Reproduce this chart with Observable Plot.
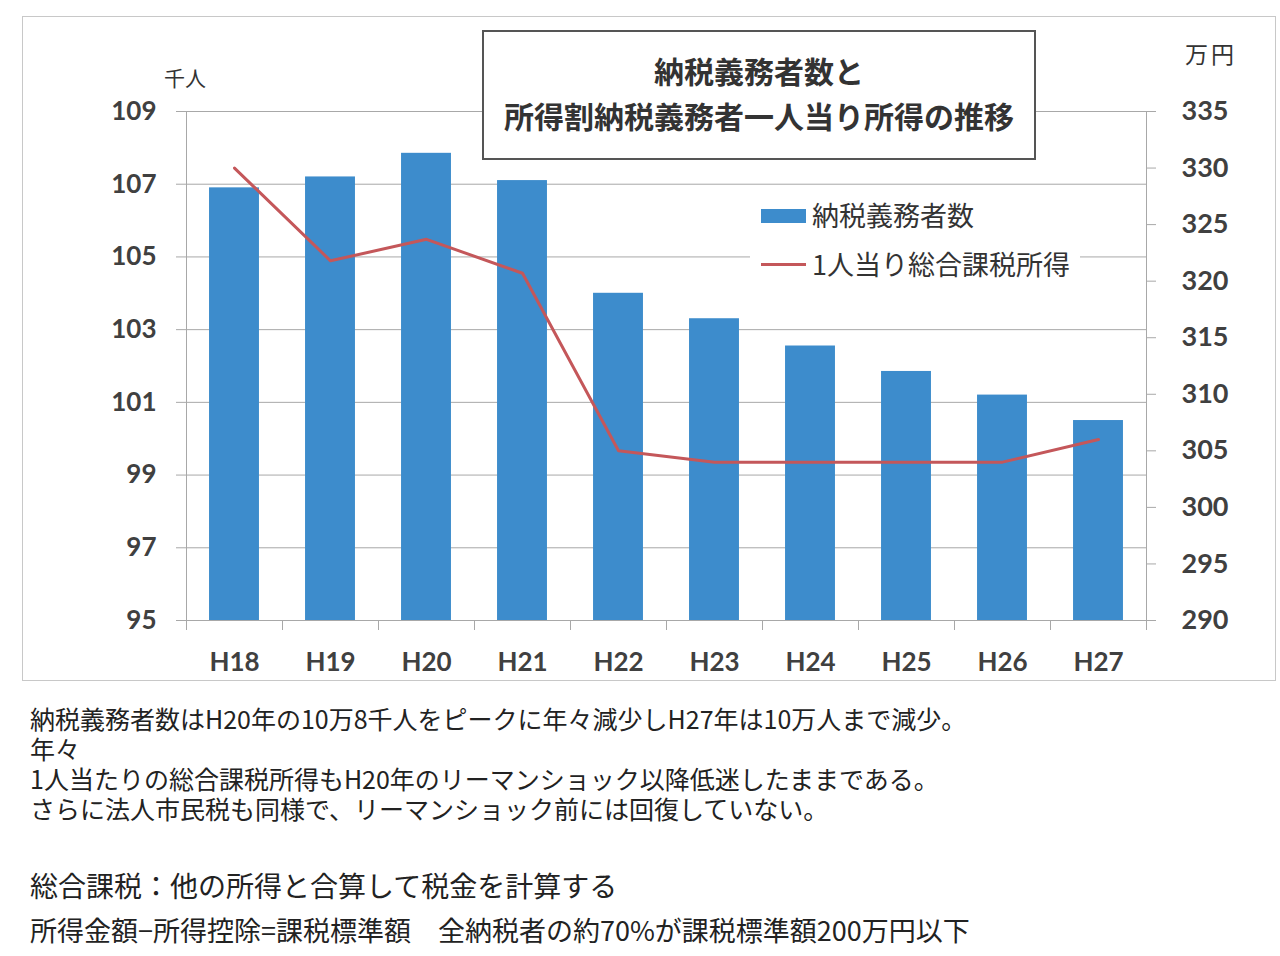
<!DOCTYPE html>
<html>
<head>
<meta charset="utf-8">
<script src="https://cdn.jsdelivr.net/npm/d3@7"></script>
<script src="https://cdn.jsdelivr.net/npm/@observablehq/plot@0.6"></script>
<style>
  html, body { margin: 0; padding: 0; background: #fff; overflow: hidden; }
  #page { position: relative; width: 1280px; height: 956px; font-family: "Noto Sans CJK JP", sans-serif; color: #333; }
  #frame { position: absolute; left: 22px; top: 16px; width: 1252px; height: 663px; border: 1px solid #c8c8c8; }
  #chart { position: absolute; left: 0; top: 0; }
  #title { position: absolute; left: 482px; top: 30px; width: 550px; border: 2px solid #555; background: #fff;
           text-align: center; font-weight: bold; font-size: 30px; line-height: 45px; padding-top: 16px; height: 110px; color: #333; }
  #legend { position: absolute; left: 750px; top: 192px; width: 330px; height: 95px; background: #fff; }
  .leg { position: absolute; left: 62px; font-size: 27px; line-height: 34px; color: #333; white-space: nowrap; }
  .sw { position: absolute; left: 11px; width: 45px; }
  .unit { position: absolute; font-size: 21px; color: #333; }
  .note { position: absolute; left: 30px; white-space: pre; color: #222; }
</style>
</head>
<body>
<div id="page">
  <div id="frame"></div>
  <div id="chart"></div>
  <div id="title"></div>
  <div id="legend"></div>
  <div class="unit" id="unitL" style="left:164px; top:62px;"></div>
  <div class="unit" id="unitR" style="left:1185px; top:36px; font-size:23px; letter-spacing:3px;"></div>
  <div id="notes"></div>
</div>
<script>
// ---- data ----
const categories = ["H18", "H19", "H20", "H21", "H22", "H23", "H24", "H25", "H26", "H27"];
const taxpayers = [106.9, 107.2, 107.85, 107.1, 104.0, 103.3, 102.55, 101.85, 101.2, 100.5]; // 千人
const incomePerPerson = [330, 321.8, 323.7, 320.7, 305, 304, 304, 304, 304, 306]; // 万円
const leftTicks = [95, 97, 99, 101, 103, 105, 107, 109];
const rightTicks = [290, 295, 300, 305, 310, 315, 320, 325, 330, 335];
const leftDomain = [95, 109];
const rightDomain = [290, 335];

const seriesNames = ["納税義務者数", "1人当り総合課税所得"];
const titleLines = ["納税義務者数と", "所得割納税義務者一人当り所得の推移"];
const unitLeft = "千人";
const unitRight = "万円";
const notesMain = [
  "納税義務者数はH20年の10万8千人をピークに年々減少しH27年は10万人まで減少。",
  "年々",
  "1人当たりの総合課税所得もH20年のリーマンショック以降低迷したままである。",
  "さらに法人市民税も同様で、リーマンショック前には回復していない。"
];
const notesExtra = [
  "総合課税：他の所得と合算して税金を計算する",
  "所得金額−所得控除=課税標準額　全納税者の約70%が課税標準額200万円以下"
];

// ---- colors ----
const barColor = "#3d8ccc";
const lineColor = "#c4575a";

// map right-axis values onto the left scale
const toLeft = v => leftDomain[0] + (v - rightDomain[0]) * (leftDomain[1] - leftDomain[0]) / (rightDomain[1] - rightDomain[0]);
const fromLeft = v => rightDomain[0] + (v - leftDomain[0]) * (rightDomain[1] - rightDomain[0]) / (leftDomain[1] - leftDomain[0]);

const data = categories.map((c, i) => ({cat: c, n: taxpayers[i], inc: incomePerPerson[i]}));

const W = 1280, H = 690, mL = 186, mR = 134, mT = 111, mB = 70;
const step = (W - mL - mR) / categories.length;
const gray = "#a8a8a8";

const chart = Plot.plot({
  width: W, height: H,
  marginLeft: mL, marginRight: mR, marginTop: mT, marginBottom: mB,
  style: {background: "none", fontFamily: "Lato, 'Noto Sans', sans-serif", color: "#404040", overflow: "visible"},
  x: {type: "band", domain: categories, padding: 0, label: null},
  y: {domain: leftDomain, label: null},
  marks: [
    Plot.gridY(leftTicks, {stroke: gray, strokeOpacity: 1, strokeWidth: 1}),
    Plot.barY(data, {x: "cat", y1: leftDomain[0], y2: "n", fill: barColor, insetLeft: step * 0.24, insetRight: step * 0.24}),
    Plot.ruleX([categories[0]], {dx: -step / 2, y1: leftDomain[0], y2: leftDomain[1], stroke: gray}),
    Plot.ruleX([categories[categories.length - 1]], {dx: step / 2, y1: leftDomain[0], y2: leftDomain[1], stroke: gray}),
    Plot.axisY({ticks: leftTicks, tickSize: 10, tickPadding: 20, fontSize: 26, fontWeight: "bold", stroke: gray, tickFormat: d => String(d), label: null}),
    Plot.axisY({anchor: "right", ticks: rightTicks.map(toLeft), tickFormat: d => String(Math.round(fromLeft(d))),
                tickSize: 9, tickPadding: 26, fontSize: 27, fontWeight: "bold", stroke: gray, label: null}),
    Plot.axisX({ticks: categories, tickFormat: () => "", tickSize: 10, dx: -step / 2, stroke: gray, label: null}),
    Plot.axisX({ticks: [categories[categories.length - 1]], tickFormat: () => "", tickSize: 10, dx: step / 2, stroke: gray, label: null}),
    Plot.axisX({tickSize: 0, tickPadding: 32, fontSize: 26, fontWeight: "bold", label: null}),
    Plot.lineY(data, {x: "cat", y: d => toLeft(d.inc), stroke: lineColor, strokeWidth: 3})
  ]
});
document.getElementById("chart").appendChild(chart);

// title
document.getElementById("title").innerHTML = titleLines.map(t => `<div>${t}</div>`).join("");

// legend
const leg = document.getElementById("legend");
leg.innerHTML =
  `<div class="sw" style="top:17px;height:14px;background:${barColor}"></div>` +
  `<div class="leg" style="top:6px">${seriesNames[0]}</div>` +
  `<div class="sw" style="top:71px;height:3px;background:${lineColor}"></div>` +
  `<div class="leg" style="top:55px">${seriesNames[1]}</div>`;

document.getElementById("unitL").textContent = unitLeft;
document.getElementById("unitR").textContent = unitRight;

// notes
const notesEl = document.getElementById("notes");
const block = document.createElement("div");
block.className = "note";
block.style.fontSize = "25px";
block.style.lineHeight = "30px";
block.style.top = "703px";
block.textContent = notesMain.join("\n");
notesEl.appendChild(block);

const extraTops = [871, 916];
const extraSizes = [28, 27];
notesExtra.forEach((t, i) => {
  const d = document.createElement("div");
  d.className = "note";
  d.style.fontSize = extraSizes[i] + "px";
  d.style.lineHeight = "28px";
  d.style.top = extraTops[i] + "px";
  d.textContent = t;
  notesEl.appendChild(d);
});
</script>
</body>
</html>
